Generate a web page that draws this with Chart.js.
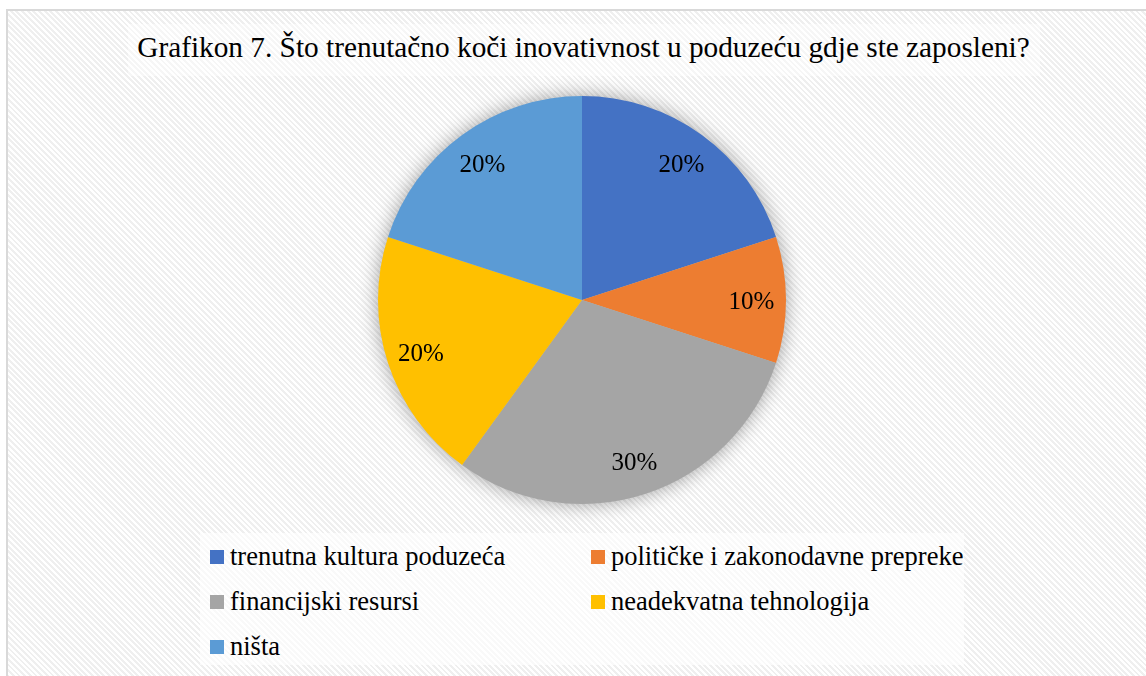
<!DOCTYPE html>
<html>
<head>
<meta charset="utf-8">
<script src="https://cdn.jsdelivr.net/npm/chart.js@4.4.1/dist/chart.umd.min.js"></script>
<style>
  html, body { margin:0; padding:0; }
  body {
    width:1146px; height:676px; overflow:hidden; position:relative;
    background:#ffffff;
    font-family:"Liberation Serif","Times New Roman",serif;
  }
  #frame {
    position:absolute; left:6px; top:9px; width:1160px; height:690px;
    border:2px solid #d9d9d9; box-sizing:border-box;
    background: repeating-linear-gradient(45deg, #ffffff 0px, #ffffff 2px, #efefef 2px, #efefef 4px);
  }
  #titleBox {
    position:absolute; left:128px; top:24px; width:912px; height:52px;
    background:rgba(255,255,255,0.45);
  }
  #title {
    position:absolute; left:0; top:30px; width:1167px; text-align:center;
    font-size:29.3px; color:#000; line-height:34px; white-space:nowrap;
  }
  #legendBox {
    position:absolute; left:200px; top:533px; width:764px; height:132px;
    background:rgba(255,255,255,0.6);
  }
  .li { position:absolute; font-size:26.5px; color:#000; white-space:nowrap; line-height:30px; }
  .sw { position:absolute; width:14px; height:14px; }
  canvas { position:absolute; left:0; top:0; }
</style>
</head>
<body>
<div id="frame"></div>
<div id="titleBox"></div>
<div id="title">Grafikon 7. Što trenutačno koči inovativnost u poduzeću gdje ste zaposleni?</div>
<div id="legendBox"></div>
<div id="legend"></div>
<canvas id="c" width="1146" height="676"></canvas>
<script>
const categories = [
  "trenutna kultura poduzeća",
  "političke i zakonodavne prepreke",
  "financijski resursi",
  "neadekvatna tehnologija",
  "ništa"
];
const shares = [20, 10, 30, 20, 20];
const colors = ["#4472C4", "#ED7D31", "#A5A5A5", "#FFC000", "#5B9BD5"];

// Soft shadow under the pie, drawn from the arc geometry computed by Chart.js
const pieShadow = {
  id: 'pieShadow',
  beforeDatasetsDraw(chart) {
    const meta = chart.getDatasetMeta(0);
    if (!meta.data.length) return;
    const a = meta.data[0];
    const ctx = chart.ctx;
    ctx.save();
    ctx.shadowColor = 'rgba(0,0,0,0.4)';
    ctx.shadowBlur = 20;
    ctx.shadowOffsetX = 0;
    ctx.shadowOffsetY = 0;
    ctx.fillStyle = '#bbbbbb';
    ctx.beginPath();
    ctx.arc(a.x, a.y, a.outerRadius - 1, 0, Math.PI * 2);
    ctx.fill();
    ctx.restore();
  }
};

// Percentage labels inside each slice
const sliceLabels = {
  id: 'sliceLabels',
  afterDatasetsDraw(chart) {
    const meta = chart.getDatasetMeta(0);
    const ds = chart.data.datasets[0].data;
    const total = ds.reduce((s, v) => s + v, 0);
    const ctx = chart.ctx;
    ctx.save();
    ctx.font = '25px "Liberation Serif", "Times New Roman", serif';
    ctx.fillStyle = '#000';
    ctx.textAlign = 'center';
    ctx.textBaseline = 'middle';
    meta.data.forEach((arc, i) => {
      const mid = (arc.startAngle + arc.endAngle) / 2;
      const r = arc.outerRadius * 0.83;
      const x = arc.x + Math.cos(mid) * r;
      const y = arc.y + Math.sin(mid) * r;
      ctx.fillText(Math.round(ds[i] / total * 100) + '%', x, y + 2);
    });
    ctx.restore();
  }
};

const chart = new Chart(document.getElementById('c'), {
  type: 'pie',
  data: {
    labels: categories,
    datasets: [{
      data: shares,
      backgroundColor: colors,
      borderWidth: 0
    }]
  },
  options: {
    responsive: false,
    animation: false,
    layout: { padding: { left: 378, right: 360, top: 96, bottom: 172 } },
    plugins: {
      legend: { display: false },
      title: { display: false },
      tooltip: { enabled: false }
    }
  },
  plugins: [pieShadow, sliceLabels]
});

// Legend in a two-column grid, built from the same arrays
const legend = document.getElementById('legend');
const colX = [210, 591];
const rowY = [550, 595, 640];
categories.forEach((name, i) => {
  const col = i % 2, row = Math.floor(i / 2);
  const sw = document.createElement('div');
  sw.className = 'sw';
  sw.style.left = colX[col] + 'px';
  sw.style.top = rowY[row] + 'px';
  sw.style.background = colors[i];
  legend.appendChild(sw);
  const t = document.createElement('div');
  t.className = 'li';
  t.style.left = (colX[col] + 20) + 'px';
  t.style.top = (rowY[row] - 9) + 'px';
  t.textContent = name;
  legend.appendChild(t);
});
</script>
</body>
</html>
